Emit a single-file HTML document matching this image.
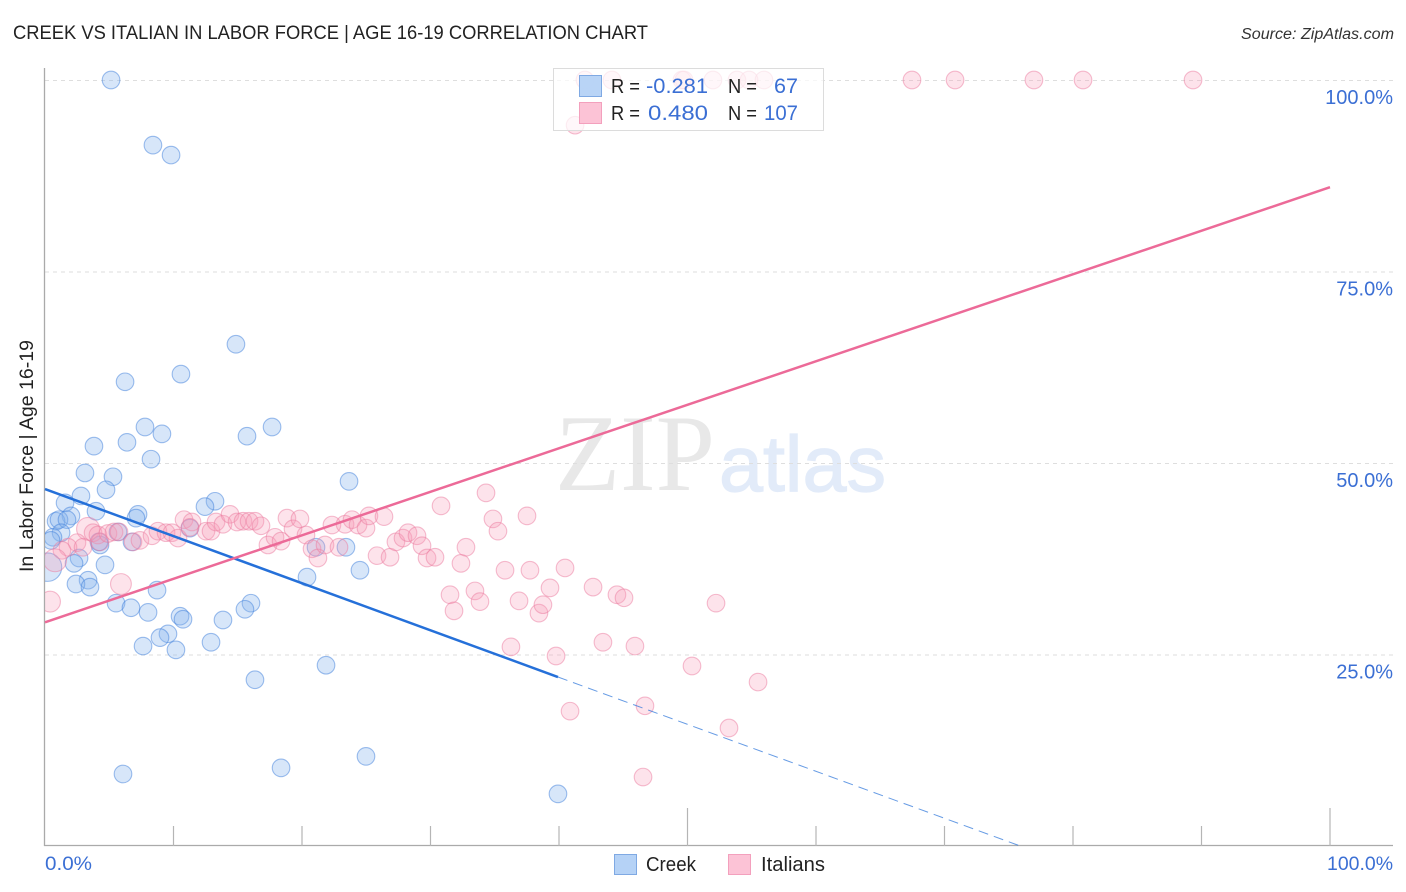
<!DOCTYPE html>
<html lang="en">
<head>
<meta charset="utf-8">
<title>Creek vs Italian in Labor Force | Age 16-19 Correlation Chart</title>
<style>
html,body{margin:0;padding:0;background:#fff;width:1406px;height:892px;overflow:hidden}
svg{display:block}
text{font-family:"Liberation Sans",sans-serif}
</style>
</head>
<body>
<svg id="chart" xmlns="http://www.w3.org/2000/svg" width="1406" height="892" viewBox="0 0 1406 892">
  <defs>
    <clipPath id="plot-clip"><rect x="45" y="60" width="1361" height="786"/></clipPath>
  </defs>
  <g id="watermark">
    <text x="555" y="490" font-size="109" textLength="160" lengthAdjust="spacingAndGlyphs" fill="#e8e8e8" style='font-family:"Liberation Serif",serif'>ZIP</text>
    <text x="719" y="491" font-size="79" textLength="167" lengthAdjust="spacingAndGlyphs" fill="#e2ebf9" stroke="#e2ebf9" stroke-width="1.2">atlas</text>
  </g>
  <g id="grid"></g>
  <g id="axes"></g>
  <g clip-path="url(#plot-clip)">
    <g id="creek-points"></g>
    <g id="italians-points"></g>
  </g>
  <g id="trends"></g>
  <g id="ylabels"></g>

  <text x="13" y="39" font-size="19.5" textLength="635" lengthAdjust="spacingAndGlyphs" fill="#222">CREEK VS ITALIAN IN LABOR FORCE | AGE 16-19 CORRELATION CHART</text>
  <text x="1241" y="39" font-size="15.5" font-style="italic" textLength="153" lengthAdjust="spacingAndGlyphs" fill="#333">Source: ZipAtlas.com</text>
  <text transform="translate(33,572) rotate(-90)" font-size="19" textLength="232" lengthAdjust="spacingAndGlyphs" fill="#222">In Labor Force | Age 16-19</text>
  <text x="45" y="870" font-size="19.5" textLength="47" lengthAdjust="spacingAndGlyphs" fill="#3b6fd4">0.0%</text>
  <text x="1327" y="870" font-size="19.5" textLength="66" lengthAdjust="spacingAndGlyphs" fill="#3b6fd4">100.0%</text>

  <g>
    <rect x="553.5" y="68.5" width="270" height="62" fill="#fff" fill-opacity="0.72" stroke="#dcdcdc" stroke-width="1"/>
    <rect x="579.5" y="75.5" width="22" height="21" fill="#b5d2f6" fill-opacity="0.95" stroke="#7fa9e3"/>
    <rect x="579.5" y="102.5" width="22" height="21" fill="#fcc3d6" stroke="#f3a0bd"/>
    <text x="611" y="93" font-size="20" textLength="29" lengthAdjust="spacingAndGlyphs" fill="#222">R =</text>
    <text x="646" y="93" font-size="21.5" textLength="62" lengthAdjust="spacingAndGlyphs" fill="#3b6fd4">-0.281</text>
    <text x="728" y="93" font-size="20" textLength="29" lengthAdjust="spacingAndGlyphs" fill="#222">N =</text>
    <text x="774" y="93" font-size="21.5" textLength="24" lengthAdjust="spacingAndGlyphs" fill="#3b6fd4">67</text>
    <text x="611" y="120" font-size="20" textLength="29" lengthAdjust="spacingAndGlyphs" fill="#222">R =</text>
    <text x="648" y="120" font-size="21.5" textLength="60" lengthAdjust="spacingAndGlyphs" fill="#3b6fd4">0.480</text>
    <text x="728" y="120" font-size="20" textLength="29" lengthAdjust="spacingAndGlyphs" fill="#222">N =</text>
    <text x="764" y="120" font-size="21.5" textLength="34" lengthAdjust="spacingAndGlyphs" fill="#3b6fd4">107</text>
  </g>

  <g>
    <rect x="614.5" y="854.5" width="22" height="20" fill="#b5d2f6" stroke="#7fa9e3"/>
    <text x="646" y="871" font-size="20" textLength="50" lengthAdjust="spacingAndGlyphs" fill="#222">Creek</text>
    <rect x="728.5" y="854.5" width="22" height="20" fill="#fcc3d6" stroke="#f3a0bd"/>
    <text x="761" y="871" font-size="20" textLength="64" lengthAdjust="spacingAndGlyphs" fill="#222">Italians</text>
  </g>
</svg>

<script>
// ---- Data (percent values) ----
const creekX = [5.14,8.40,9.81,14.86,6.23,10.58,7.78,9.10,3.81,6.38,15.72,17.67,8.25,3.11,5.29,4.75,2.80,1.56,3.97,13.23,12.45,7.24,7.08,23.66,2.02,0.86,1.09,1.71,1.25,0.62,0.47,5.68,11.28,6.77,4.28,4.20,21.09,23.42,2.65,2.26,4.67,0.20,24.51,20.39,3.35,2.41,3.50,8.72,5.53,6.69,8.02,16.03,15.56,10.51,10.74,13.85,9.57,8.95,7.63,10.19,12.92,21.87,16.34,24.98,18.37,6.07,39.92];
const creekY = [100,91.5,90.2,65.5,60.6,61.6,54.7,53.8,52.2,52.7,53.5,54.7,50.5,48.7,48.2,46.5,45.7,44.8,43.7,45.0,44.3,43.3,42.8,47.6,43.1,42.4,42.6,42.6,40.9,40.3,39.9,41.0,41.5,39.7,39.3,39.7,39.0,39.0,37.6,36.9,36.7,36.4,36.0,35.1,34.7,34.2,33.8,33.4,31.7,31.1,30.5,31.7,30.9,30.0,29.6,29.5,27.7,27.2,26.1,25.6,26.6,23.6,21.7,11.7,10.2,9.4,6.8];
// Point weights that differ from 1 (index -> weight), drawn as larger bubbles
const creekWeights = {41: 2.6};

const italiansX = [42.02,44.12,49.57,49.73,51.98,53.85,54.79,55.95,67.47,70.82,76.96,80.78,89.34,41.25,3.35,3.74,4.12,4.28,4.90,5.37,5.76,6.85,7.39,8.33,8.79,9.42,9.88,10.35,10.82,11.44,11.28,12.53,12.92,13.31,13.85,14.40,14.94,15.41,15.88,16.34,16.81,17.35,17.90,18.37,18.83,19.30,19.84,20.31,20.78,21.24,21.79,22.88,22.33,23.35,23.89,24.36,24.98,25.21,26.38,30.82,34.32,34.86,35.25,37.51,25.84,26.85,27.31,27.86,28.25,28.95,29.34,29.73,30.35,32.76,32.37,35.80,37.74,31.52,31.83,33.46,33.85,36.89,38.44,38.75,39.30,36.26,40.47,42.65,44.51,45.06,52.22,43.42,45.91,39.77,50.35,55.49,40.86,46.69,53.23,46.54,2.49,1.79,1.32,0.78,2.96,5.91,0.39];
const italiansY = [100,100,100,100,100,100,100,100,100,100,100,100,100,94.1,41.4,40.9,40.6,39.7,40.8,41.0,41.0,39.7,39.9,40.5,41.1,40.9,40.9,40.2,42.6,42.3,41.6,41.1,41.1,42.3,42.0,43.3,42.3,42.4,42.4,42.4,41.8,39.3,40.3,39.8,42.8,41.4,42.7,40.6,38.8,37.6,39.3,39.0,41.9,42.0,42.6,41.9,41.5,43.1,43.0,44.4,46.1,42.7,41.1,43.1,37.9,37.7,39.7,40.2,40.9,40.5,39.2,37.6,37.7,39.0,36.9,36.0,36.0,32.8,30.7,33.3,31.9,32.0,30.4,31.5,33.7,26.0,36.3,33.8,32.8,32.4,31.7,26.6,26.1,24.8,23.5,21.4,17.6,18.3,15.4,9.0,39.6,39.0,38.6,37.3,39.0,34.2,31.9];
const italiansWeights = {14: 1.7, 103: 1.7, 105: 1.4, 106: 1.4};

// Trend lines: [x, y] end points in percent
const creekTrendSolidX = [0, 39.92];
const creekTrendSolidY = [46.6, 22.06];
const creekTrendDashX = [39.92, 75.9];
const creekTrendDashY = [22.06, 0];
const italiansTrendX = [0, 100];
const italiansTrendY = [29.2, 86.0];

const yTickValues = [25, 50, 75, 100];
const yTickLabels = ["25.0%", "50.0%", "75.0%", "100.0%"];
const xTickValues = [10, 20, 30, 40, 50, 60, 70, 80, 90, 100];
const xMajorTicks = [50, 100];

// ---- Axis functions ----
function sx(v) { return 45 + v * 12.85; }
function sy(v) { return 846 - v * 7.66; }

const NS = 'http://www.w3.org/2000/svg';
function mk(tag, parent, attrs) {
  const el = document.createElementNS(NS, tag);
  for (const k in attrs) el.setAttribute(k, attrs[k]);
  parent.appendChild(el);
  return el;
}

// Gridlines and y labels
const gridG = document.getElementById('grid');
const yLabelG = document.getElementById('ylabels');
yTickValues.forEach(function (v, i) {
  const gl = mk('line', gridG, { x1: 45, x2: 1393, y1: sy(v) + 0.5, y2: sy(v) + 0.5, stroke: '#dedede', 'stroke-width': 1, 'stroke-dasharray': '4 4' });
  
  
  const t = mk('text', yLabelG, { x: 1393, y: sy(v) + 24, 'font-size': 20, 'text-anchor': 'end', fill: '#3b6fd4' });
  t.textContent = yTickLabels[i];
  
  
});

// Axes and ticks
const axesG = document.getElementById('axes');
const yAxis = mk('line', axesG, { x1: 44.5, x2: 44.5, y1: 68, y2: 846, stroke: '#aaa', 'stroke-width': 1.3 });


const xAxis = mk('line', axesG, { x1: 44, x2: 1393, y1: 845.5, y2: 845.5, stroke: '#aaa', 'stroke-width': 1.3 });


xTickValues.forEach(function (v) {
  const top = xMajorTicks.indexOf(v) >= 0 ? 808 : 826;
  const tk = mk('line', axesG, { x1: sx(v), x2: sx(v), y1: top, y2: 846, stroke: '#b5b5b5', 'stroke-width': 1.2 });
  
  
});

// Points
function radius(w) { return 8.8 * Math.sqrt(w || 1); }
const creekG = document.getElementById('creek-points');
creekX.forEach(function (x, i) {
  const c = mk('circle', creekG, { cx: sx(x), cy: sy(creekY[i]), r: radius(creekWeights[i]), fill: '#85b2ee', 'fill-opacity': 0.33, stroke: '#3f7fdc', 'stroke-opacity': 0.5, 'stroke-width': 1.1 });
  
  
});
const italiansG = document.getElementById('italians-points');
italiansX.forEach(function (x, i) {
  const c = mk('circle', italiansG, { cx: sx(x), cy: sy(italiansY[i]), r: radius(italiansWeights[i]), fill: '#f79ab8', 'fill-opacity': 0.28, stroke: '#ec7ba0', 'stroke-opacity': 0.5, 'stroke-width': 1.1 });
  
  
});

// Trend lines
const trendG = document.getElementById('trends');
const solidBlue = mk('line', trendG, { x1: sx(creekTrendSolidX[0]), y1: sy(creekTrendSolidY[0]), x2: sx(creekTrendSolidX[1]), y2: sy(creekTrendSolidY[1]), stroke: '#2570d9', 'stroke-width': 2.5 });


const dashBlue = mk('line', trendG, { x1: sx(creekTrendDashX[0]), y1: sy(creekTrendDashY[0]), x2: sx(creekTrendDashX[1]), y2: sy(creekTrendDashY[1]), stroke: '#2570d9', 'stroke-width': 1, 'stroke-opacity': 0.7, 'stroke-dasharray': '10 6' });


const pinkLine = mk('line', trendG, { x1: sx(italiansTrendX[0]), y1: sy(italiansTrendY[0]), x2: sx(italiansTrendX[1]), y2: sy(italiansTrendY[1]), stroke: '#ec6a98', 'stroke-width': 2.5 });


</script>
</body>
</html>
